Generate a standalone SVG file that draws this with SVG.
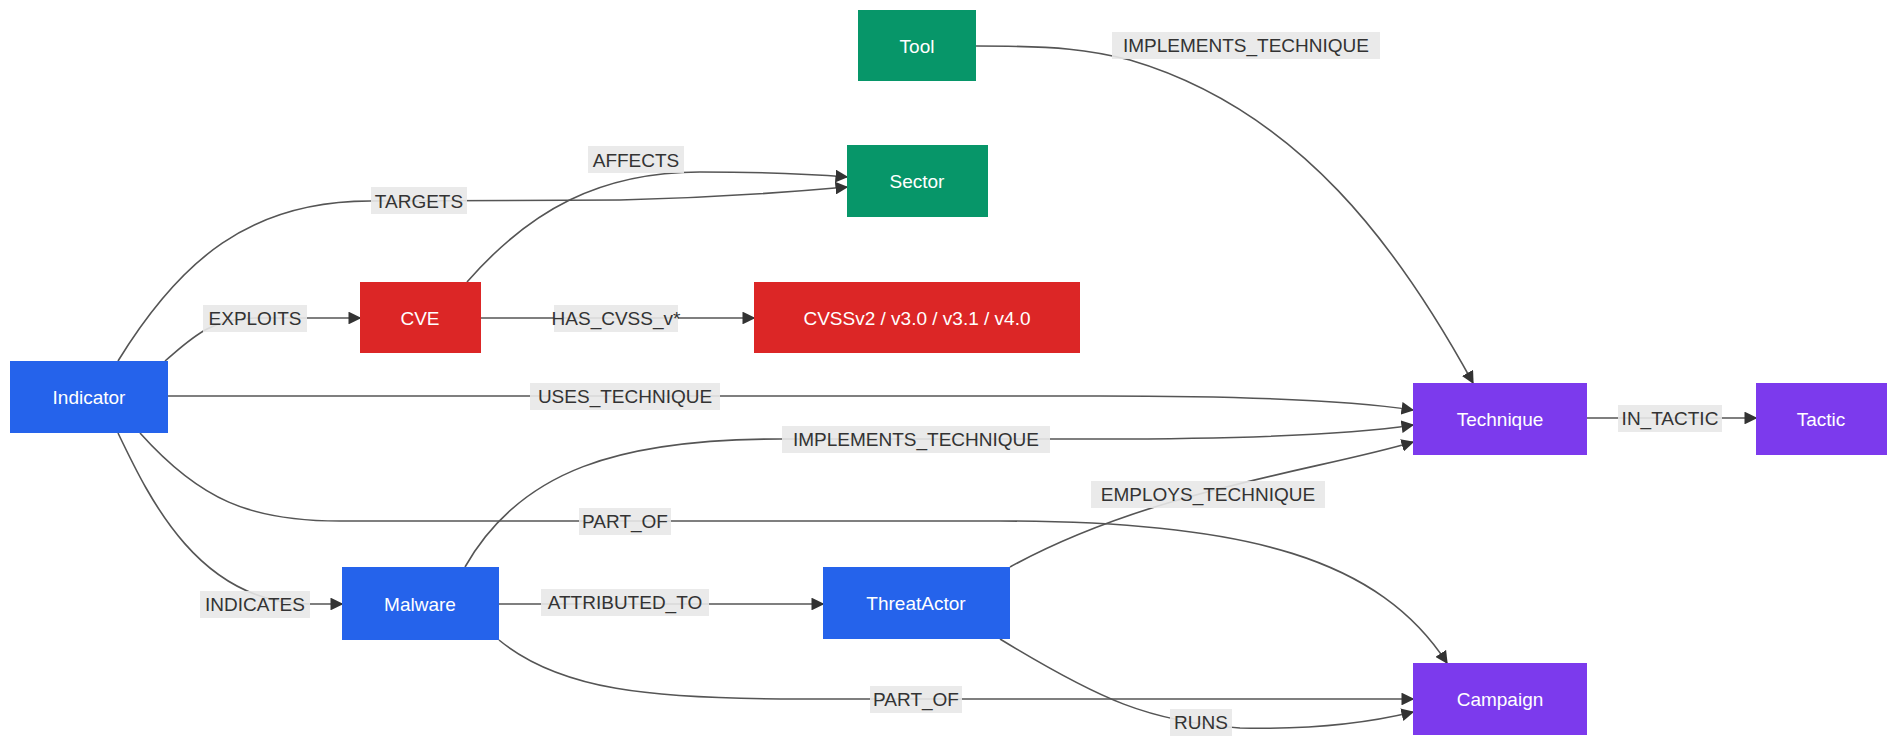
<svg xmlns="http://www.w3.org/2000/svg" width="1891" height="746" viewBox="0 0 1891 746">
<style>
.n text{font-family:"Liberation Sans",Arial,sans-serif;font-size:19px;fill:#fff;text-anchor:middle;dominant-baseline:central}
.e path{fill:none;stroke:#555;stroke-width:1.6}
.l rect{fill:#e8e8e8;opacity:0.9}
.l text{font-family:"Liberation Sans",Arial,sans-serif;font-size:19px;fill:#333;text-anchor:middle;dominant-baseline:central}
.g{fill:#079669}.r{fill:#dc2626}.b{fill:#2563eb}.p{fill:#7c3aed}
</style>
<defs><marker id="a" viewBox="0 0 10 10" refX="9" refY="5" markerWidth="8" markerHeight="8" orient="auto"><path d="M0,0L10,5L0,10z" fill="#333"/></marker></defs>
<rect width="1891" height="746" fill="#fff"/>
<g class="e">
<path marker-end="url(#a)" d="M976,46 C1060,46 1090,50 1130,60 C1300,110 1400,250 1473,383"/>
<path marker-end="url(#a)" d="M118,361 C180,260 250,201 370,201 L620,200 C700,198 780,193 847,187"/>
<path marker-end="url(#a)" d="M467,282 C530,210 600,172 700,172 C760,172 810,174 847,177"/>
<path marker-end="url(#a)" d="M165,361 C190,340 210,318 255,318 L360,318"/>
<path marker-end="url(#a)" d="M481,318 L754,318"/>
<path marker-end="url(#a)" d="M168,396 L1100,396 C1300,396 1380,405 1413,410"/>
<path marker-end="url(#a)" d="M465,567 C520,470 620,439 780,439 L1100,439 C1300,439 1380,430 1413,425"/>
<path marker-end="url(#a)" d="M1010,567 C1150,490 1320,470 1413,442"/>
<path marker-end="url(#a)" d="M1587,418 L1756,418"/>
<path marker-end="url(#a)" d="M140,433 C200,500 250,521 340,521 L1000,521 C1250,521 1380,560 1447,663"/>
<path marker-end="url(#a)" d="M118,433 C150,500 200,604 310,604 L342,604"/>
<path marker-end="url(#a)" d="M499,604 L823,604"/>
<path marker-end="url(#a)" d="M499,640 C560,690 650,699 800,699 L1413,699"/>
<path marker-end="url(#a)" d="M1000,639 C1100,700 1150,722 1240,728 C1320,730 1380,720 1413,712"/>
</g>
<g class="l">
<rect x="1112" y="32" width="268" height="27"/><text x="1246" y="45">IMPLEMENTS_TECHNIQUE</text>
<rect x="588" y="146" width="96" height="27"/><text x="636" y="160">AFFECTS</text>
<rect x="371" y="187" width="96" height="27"/><text x="419" y="201">TARGETS</text>
<rect x="203" y="305" width="104" height="27"/><text x="255" y="318">EXPLOITS</text>
<rect x="554" y="305" width="124" height="27"/><text x="616" y="318">HAS_CVSS_v*</text>
<rect x="530" y="383" width="190" height="27"/><text x="625" y="396">USES_TECHNIQUE</text>
<rect x="782" y="426" width="268" height="27"/><text x="916" y="439">IMPLEMENTS_TECHNIQUE</text>
<rect x="1618" y="405" width="104" height="27"/><text x="1670" y="418">IN_TACTIC</text>
<rect x="1091" y="481" width="234" height="27"/><text x="1208" y="494">EMPLOYS_TECHNIQUE</text>
<rect x="579" y="508" width="92" height="27"/><text x="625" y="521">PART_OF</text>
<rect x="200" y="591" width="110" height="27"/><text x="255" y="604">INDICATES</text>
<rect x="541" y="589" width="168" height="27"/><text x="625" y="602">ATTRIBUTED_TO</text>
<rect x="870" y="686" width="92" height="27"/><text x="916" y="699">PART_OF</text>
<rect x="1170" y="709" width="62" height="27"/><text x="1201" y="722">RUNS</text>
</g>
<g id="tool" class="n"><rect class="g" x="858" y="10" width="118" height="71"/><text x="917" y="46">Tool</text></g>
<g id="sector" class="n"><rect class="g" x="847" y="145" width="141" height="72"/><text x="917" y="181">Sector</text></g>
<g id="cve" class="n"><rect class="r" x="360" y="282" width="121" height="71"/><text x="420" y="318">CVE</text></g>
<g id="cvss" class="n"><rect class="r" x="754" y="282" width="326" height="71"/><text x="917" y="318">CVSSv2 / v3.0 / v3.1 / v4.0</text></g>
<g id="indicator" class="n"><rect class="b" x="10" y="361" width="158" height="72"/><text x="89" y="397">Indicator</text></g>
<g id="technique" class="n"><rect class="p" x="1413" y="383" width="174" height="72"/><text x="1500" y="419">Technique</text></g>
<g id="tactic" class="n"><rect class="p" x="1756" y="383" width="131" height="72"/><text x="1821" y="419">Tactic</text></g>
<g id="malware" class="n"><rect class="b" x="342" y="567" width="157" height="73"/><text x="420" y="604">Malware</text></g>
<g id="threatactor" class="n"><rect class="b" x="823" y="567" width="187" height="72"/><text x="916" y="603">ThreatActor</text></g>
<g id="campaign" class="n"><rect class="p" x="1413" y="663" width="174" height="72"/><text x="1500" y="699">Campaign</text></g>
</svg>
